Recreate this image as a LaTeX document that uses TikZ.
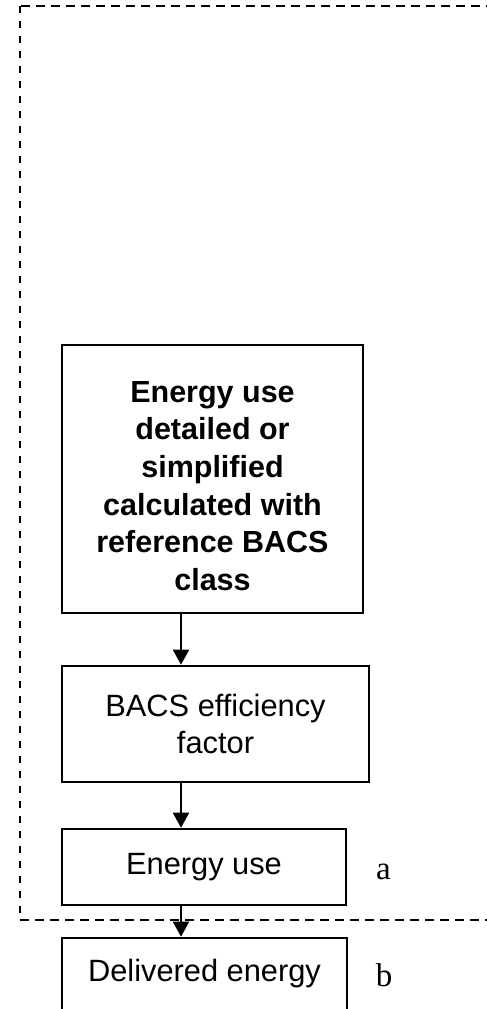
\documentclass[tikz,border=0pt]{standalone}
\usepackage{fontspec}
\setmainfont{Liberation Sans}
\newfontfamily\serifletter{Liberation Serif}
\usetikzlibrary{arrows.meta}
\begin{document}
\begin{tikzpicture}[x=1pt,y=-1pt,
  stagebox/.style={draw=black,line width=2.6pt,fill=white,inner sep=0pt},
  boxtext/.style={align=center,inner sep=0pt,font=\fontsize{30.8}{37.7}\selectfont},
  flow/.style={line width=2pt,-{Triangle[width=16pt,length=15pt]}},
  frame/.style={line width=2pt,dash pattern=on 9pt off 6pt},
  tag/.style={anchor=base,inner sep=0pt,font=\serifletter\fontsize{33}{33}\selectfont}]
\useasboundingbox (0,0) rectangle (487,1009);

% dashed boundary of the calculation scope
\coordinate (ftl) at (20,6);
\coordinate (ftr) at (495,6);
\coordinate (fbl) at (20,920);
\coordinate (fbr) at (495,920);
\draw[frame] (ftr) -- (ftl);
\draw[line width=2pt,dash pattern=on 7pt off 8pt] (ftl) -- (fbl);
\draw[frame] (fbl) -- (fbr);

% boxes
\node[stagebox,minimum width=301pt,minimum height=268pt] (b1) at (212.5,479) {};
\node[boxtext,font=\bfseries\fontsize{30.5}{37.7}\selectfont] (t1) at (212.5,486)
  {Energy use\\detailed or\\simplified\\calculated with\\reference BACS\\class};
\node[stagebox,minimum width=307pt,minimum height=116pt] (b2) at (215.5,724) {};
\node[boxtext] (t2) at (b2.center) {BACS efficiency\\factor};
\node[stagebox,minimum width=284pt,minimum height=76pt] (b3) at (204,867) {};
\node[boxtext] (t3) at (b3.center) {Energy use};
\node[stagebox,minimum width=285pt,minimum height=72pt] (b4) at (204.5,974) {};
\node[boxtext] (t4) at (b4.center) {Delivered energy};

% side letters
\node[tag] (la) at (383.5,879) {a};
\node[tag] (lb) at (384,986) {b};

% connectors
\coordinate (axis) at (181,0);
\draw[flow] (axis |- b1.south) -- (axis |- b2.north);
\draw[flow] (axis |- b2.south) -- (axis |- b3.north);
\draw[flow] (axis |- b3.south) -- (axis |- b4.north);
\end{tikzpicture}
\end{document}
